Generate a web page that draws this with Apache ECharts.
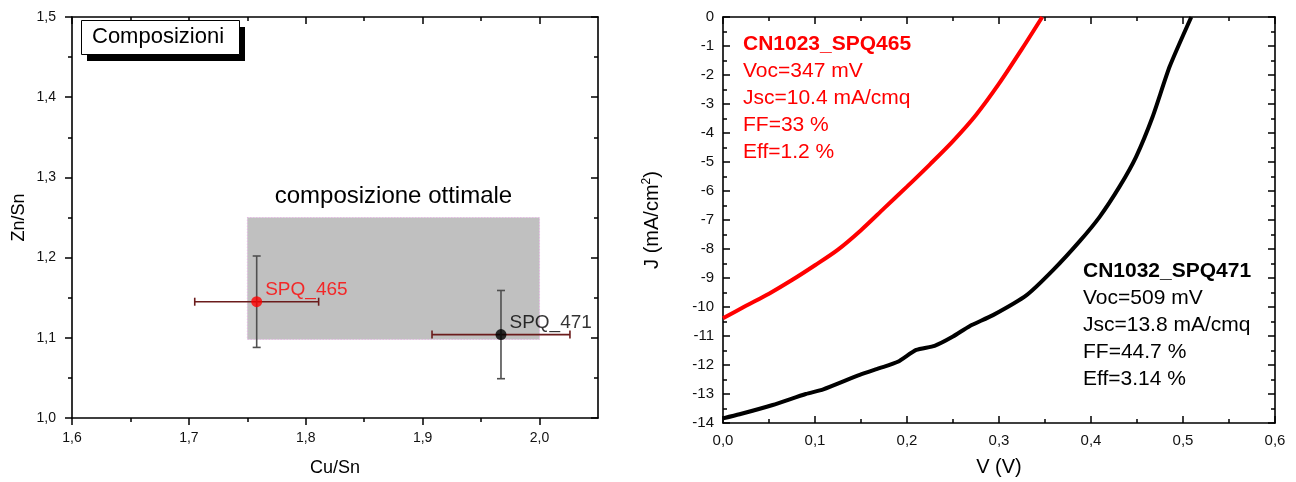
<!DOCTYPE html>
<html>
<head>
<meta charset="utf-8">
<script src="https://cdn.jsdelivr.net/npm/echarts@6/dist/echarts.min.js"></script>
<style>
html,body{margin:0;padding:0;background:#fff;}
#chart{width:1296px;height:482px;}
</style>
</head>
<body>
<div id="chart"></div>
<script>
// ---------- Left panel: compositions ----------
const SAMPLE_NAMES = ['SPQ_465', 'SPQ_471'];
const CU_SN = [1.758, 1.967];
const ZN_SN = [1.145, 1.104];
const CU_SN_ERR = [0.053, 0.059];
const ZN_SN_ERR = [0.057, 0.055];
const SAMPLE_COLORS = ['#ff0000', '#000000'];
const OPTIMAL_BOX = [1.75, 2.0, 1.098, 1.25]; // x0, x1, y0, y1
const OPTIMAL_LABEL = 'composizione ottimale';
const LEGEND_TITLE = 'Composizioni';
const LEFT_X_TICKS = [1.6, 1.7, 1.8, 1.9, 2.0];
const LEFT_X_MINOR = [1.65, 1.75, 1.85, 1.95];

// ---------- Right panel: J-V curves ----------
const V_465 = [0, 0.025, 0.05, 0.075, 0.1, 0.125, 0.15, 0.175, 0.2, 0.225, 0.25, 0.275, 0.3, 0.325, 0.347];
const J_465 = [-10.39, -9.96, -9.54, -9.07, -8.56, -8.02, -7.35, -6.60, -5.85, -5.08, -4.28, -3.38, -2.30, -1.10, 0];
const V_471 = [0, 0.018, 0.054, 0.09, 0.109, 0.1486, 0.17, 0.19, 0.21, 0.23, 0.25, 0.268, 0.2935, 0.33, 0.359, 0.388, 0.4094, 0.431, 0.449, 0.467, 0.4855, 0.509];
const J_471 = [-13.84, -13.70, -13.38, -13.00, -12.84, -12.34, -12.11, -11.89, -11.48, -11.34, -11.02, -10.66, -10.28, -9.59, -8.72, -7.72, -6.89, -5.85, -4.82, -3.44, -1.71, 0];
const INFO_465 = ['CN1023_SPQ465', 'Voc=347 mV', 'Jsc=10.4 mA/cmq', 'FF=33 %', 'Eff=1.2 %'];
const INFO_471 = ['CN1032_SPQ471', 'Voc=509 mV', 'Jsc=13.8 mA/cmq', 'FF=44.7 %', 'Eff=3.14 %'];

const FONT = 'Liberation Sans, Arial, Helvetica, sans-serif';
const comma1 = v => v.toFixed(1).replace('.', ',');

function pair(a, b) { return a.map((v, i) => [v, b[i]]); }

const axLine = { show: true, onZero: false, lineStyle: { color: '#000', width: 1.6 } };

function xAxisL(extra) {
  return Object.assign({
    type: 'value', gridIndex: 0, min: 1.6, max: 2.05,
    axisLine: axLine, splitLine: { show: false }
  }, extra);
}

const chart = echarts.init(document.getElementById('chart'), null, { renderer: 'canvas' });

const option = {
  animation: false,
  backgroundColor: '#fff',
  textStyle: { fontFamily: FONT },
  grid: [
    { left: 72, top: 17, width: 526, height: 403 },
    { left: 723, top: 17, width: 552, height: 406 }
  ],
  xAxis: [
    xAxisL({
      position: 'bottom',
      name: 'Cu/Sn', nameLocation: 'middle', nameGap: 41,
      nameTextStyle: { fontSize: 18, color: '#000', fontFamily: FONT },
      axisTick: { show: true, inside: false, length: 7, customValues: LEFT_X_TICKS, lineStyle: { color: '#000', width: 1.5 } },
      axisLabel: { show: true, margin: 13, fontSize: 14, color: '#111', fontFamily: FONT, customValues: LEFT_X_TICKS, formatter: comma1 }
    }),
    xAxisL({
      position: 'bottom', axisLine: { show: false },
      axisTick: { show: true, inside: false, length: 4, customValues: LEFT_X_MINOR, lineStyle: { color: '#000', width: 1.5 } },
      axisLabel: { show: false }
    }),
    xAxisL({
      position: 'top',
      axisTick: { show: true, inside: true, length: 7, customValues: LEFT_X_TICKS, lineStyle: { color: '#000', width: 1.5 } },
      axisLabel: { show: false }
    }),
    xAxisL({
      position: 'top', axisLine: { show: false },
      axisTick: { show: true, inside: true, length: 4, customValues: LEFT_X_MINOR, lineStyle: { color: '#000', width: 1.5 } },
      axisLabel: { show: false }
    }),
    {
      type: 'value', gridIndex: 1, position: 'bottom', min: 0, max: 0.6, interval: 0.1,
      name: 'V (V)', nameLocation: 'middle', nameGap: 34,
      nameTextStyle: { fontSize: 20, color: '#000', fontFamily: FONT },
      axisLine: axLine, splitLine: { show: false },
      axisTick: { show: true, inside: true, length: 7, lineStyle: { color: '#000', width: 1.5 } },
      minorTick: { show: true, splitNumber: 2, length: 4, lineStyle: { color: '#000', width: 1.5 } },
      axisLabel: { margin: 10, fontSize: 15, color: '#111', fontFamily: FONT, formatter: comma1 }
    },
    {
      type: 'value', gridIndex: 1, position: 'top', min: 0, max: 0.6, interval: 0.1,
      axisLine: axLine, splitLine: { show: false },
      axisTick: { show: true, inside: true, length: 7, lineStyle: { color: '#000', width: 1.5 } },
      minorTick: { show: true, splitNumber: 2, length: 4, lineStyle: { color: '#000', width: 1.5 } },
      axisLabel: { show: false }
    }
  ],
  yAxis: [
    {
      type: 'value', gridIndex: 0, position: 'left', min: 1.0, max: 1.5, interval: 0.1,
      name: 'Zn/Sn', nameLocation: 'middle', nameGap: 44,
      nameTextStyle: { fontSize: 18, color: '#000', fontFamily: FONT },
      axisLine: axLine, splitLine: { show: false },
      axisTick: { show: true, inside: false, length: 7, lineStyle: { color: '#000', width: 1.5 } },
      minorTick: { show: true, splitNumber: 2, length: 4, lineStyle: { color: '#000', width: 1.5 } },
      axisLabel: { margin: 16, fontSize: 14, color: '#111', fontFamily: FONT, formatter: comma1 }
    },
    {
      type: 'value', gridIndex: 0, position: 'right', min: 1.0, max: 1.5, interval: 0.1,
      axisLine: axLine, splitLine: { show: false },
      axisTick: { show: true, inside: true, length: 7, lineStyle: { color: '#000', width: 1.5 } },
      minorTick: { show: true, splitNumber: 2, length: 4, lineStyle: { color: '#000', width: 1.5 } },
      axisLabel: { show: false }
    },
    {
      type: 'value', gridIndex: 1, position: 'left', min: -14, max: 0, interval: 1,
      name: 'J (mA/cm{sup|2})', nameLocation: 'middle', nameGap: 60,
      nameTextStyle: { fontSize: 20, color: '#000', fontFamily: FONT,
        rich: { sup: { fontSize: 12, verticalAlign: 'top', padding: [0, 0, 10, 0], color: '#000', fontFamily: FONT } } },
      axisLine: axLine, splitLine: { show: false },
      axisTick: { show: true, inside: true, length: 7, lineStyle: { color: '#000', width: 1.5 } },
      minorTick: { show: true, splitNumber: 2, length: 4, lineStyle: { color: '#000', width: 1.5 } },
      axisLabel: { margin: 9, fontSize: 15, color: '#111', fontFamily: FONT, formatter: v => String(Math.round(v)) }
    },
    {
      type: 'value', gridIndex: 1, position: 'right', min: -14, max: 0, interval: 1,
      axisLine: axLine, splitLine: { show: false },
      axisTick: { show: true, inside: true, length: 7, lineStyle: { color: '#000', width: 1.5 } },
      minorTick: { show: true, splitNumber: 2, length: 4, lineStyle: { color: '#000', width: 1.5 } },
      axisLabel: { show: false }
    }
  ],
  series: [
    {
      type: 'custom', name: 'optimal', xAxisIndex: 0, yAxisIndex: 0, z: 1,
      data: [OPTIMAL_BOX],
      renderItem: function (params, api) {
        const p0 = api.coord([api.value(0), api.value(3)]);
        const p1 = api.coord([api.value(1), api.value(2)]);
        return {
          type: 'rect',
          shape: { x: p0[0], y: p0[1], width: p1[0] - p0[0], height: p1[1] - p0[1] },
          style: { fill: '#c0c0c0', stroke: '#e8a8e8', lineWidth: 1, lineDash: [1, 2] },
          textContent: { style: { text: OPTIMAL_LABEL, fontSize: 24, fill: '#000', fontFamily: FONT } },
          textConfig: { position: 'top', distance: 9 }
        };
      }
    },
    {
      type: 'custom', name: 'errors', xAxisIndex: 0, yAxisIndex: 0, z: 2,
      data: CU_SN.map((x, i) => [x, ZN_SN[i], CU_SN_ERR[i], ZN_SN_ERR[i]]),
      renderItem: function (params, api) {
        const x = api.value(0), y = api.value(1), ex = api.value(2), ey = api.value(3);
        const l = api.coord([x - ex, y]), r = api.coord([x + ex, y]);
        const t = api.coord([x, y + ey]), b = api.coord([x, y - ey]);
        const cap = 4;
        const hs = { stroke: '#6b1c1c', lineWidth: 1.6 };
        const vs = { stroke: '#505050', lineWidth: 1.6 };
        return {
          type: 'group',
          children: [
            { type: 'line', shape: { x1: l[0], y1: l[1], x2: r[0], y2: r[1] }, style: hs },
            { type: 'line', shape: { x1: l[0], y1: l[1] - cap, x2: l[0], y2: l[1] + cap }, style: hs },
            { type: 'line', shape: { x1: r[0], y1: r[1] - cap, x2: r[0], y2: r[1] + cap }, style: hs },
            { type: 'line', shape: { x1: t[0], y1: t[1], x2: b[0], y2: b[1] }, style: vs },
            { type: 'line', shape: { x1: t[0] - cap, y1: t[1], x2: t[0] + cap, y2: t[1] }, style: vs },
            { type: 'line', shape: { x1: b[0] - cap, y1: b[1], x2: b[0] + cap, y2: b[1] }, style: vs }
          ]
        };
      }
    },
    {
      type: 'scatter', name: 'samples', xAxisIndex: 0, yAxisIndex: 0, z: 3,
      symbol: 'circle', symbolSize: 11,
      data: CU_SN.map((x, i) => ({
        value: [x, ZN_SN[i]], name: SAMPLE_NAMES[i],
        itemStyle: { color: SAMPLE_COLORS[i] },
        label: { show: true, formatter: '{b}', position: 'right', distance: 4, offset: [-1, -12],
          fontSize: 19, color: SAMPLE_COLORS[i], fontFamily: FONT }
      }))
    },
    {
      type: 'line', name: 'CN1023_SPQ465', xAxisIndex: 4, yAxisIndex: 2,
      data: pair(V_465, J_465), showSymbol: false, symbol: 'none',
      smooth: 0.3,
      lineStyle: { color: '#ff0000', width: 4 }, z: 3
    },
    {
      type: 'line', name: 'CN1032_SPQ471', xAxisIndex: 4, yAxisIndex: 2,
      data: pair(V_471, J_471), showSymbol: false, symbol: 'none',
      smooth: 0.2,
      lineStyle: { color: '#000000', width: 4 }, z: 3
    }
  ],
  graphic: [
    { type: 'rect', left: 87, top: 27, shape: { width: 158, height: 34 }, style: { fill: '#000' }, z: 10 },
    { type: 'rect', left: 81, top: 20, shape: { width: 158, height: 34 }, style: { fill: '#fff', stroke: '#000', lineWidth: 1 }, z: 11 },
    { type: 'text', left: 92, top: 26, z: 12, style: { text: LEGEND_TITLE, fontSize: 22, fill: '#000', fontFamily: FONT } },
    {
      type: 'text', left: 743, top: 34, z: 12,
      style: {
        text: '{b|' + INFO_465[0] + '}\n' + INFO_465.slice(1).map(s => '{n|' + s + '}').join('\n'),
        rich: {
          b: { fontSize: 21, fontWeight: 'bold', lineHeight: 27, fill: '#ff0000', fontFamily: FONT },
          n: { fontSize: 21, lineHeight: 27, fill: '#ff0000', fontFamily: FONT }
        }
      }
    },
    {
      type: 'text', left: 1083, top: 261, z: 12,
      style: {
        text: '{b|' + INFO_471[0] + '}\n' + INFO_471.slice(1).map(s => '{n|' + s + '}').join('\n'),
        rich: {
          b: { fontSize: 21, fontWeight: 'bold', lineHeight: 27, fill: '#000', fontFamily: FONT },
          n: { fontSize: 21, lineHeight: 27, fill: '#000', fontFamily: FONT }
        }
      }
    }
  ]
};

chart.setOption(option);
</script>
</body>
</html>
